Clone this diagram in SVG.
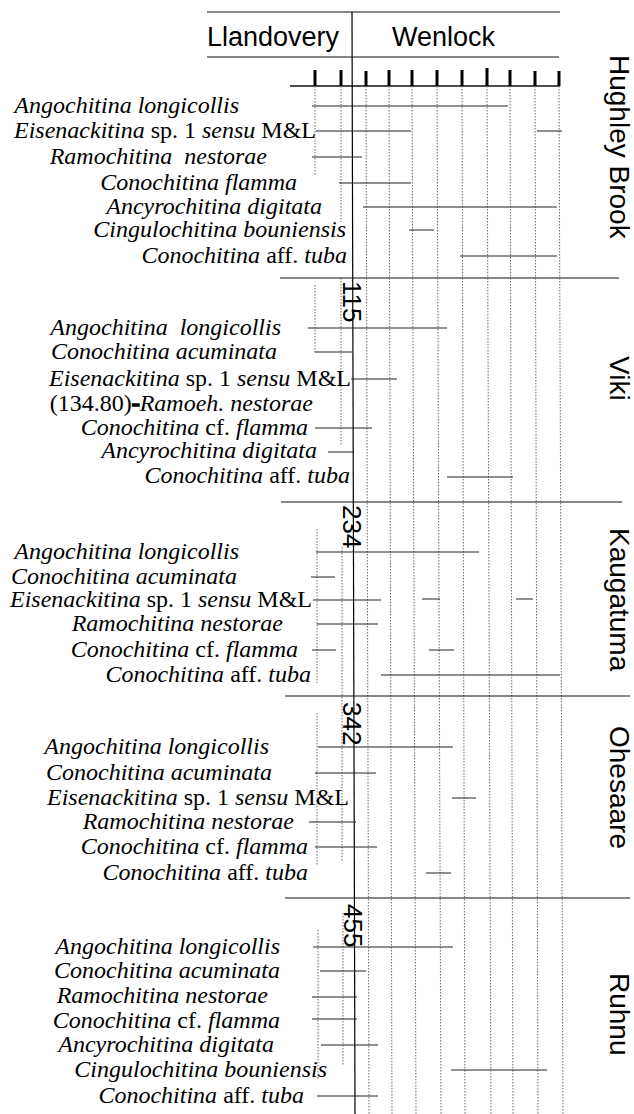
<svg xmlns="http://www.w3.org/2000/svg" width="634" height="1114" viewBox="0 0 634 1114">
<style>
.sp{font-family:"Liberation Serif","Times New Roman",serif;font-size:24px;text-anchor:end;fill:#000}
.it{font-style:italic}
.hd{font-family:"Liberation Sans",Arial,sans-serif;font-size:27px;fill:#000}
.loc{font-family:"Liberation Sans",Arial,sans-serif;font-size:28px;fill:#000}
.num{font-family:"Liberation Sans",Arial,sans-serif;font-size:26px;fill:#000}
.bar{stroke:#222;stroke-width:1;fill:none}
.dot{stroke:#6a6a6a;stroke-width:1;stroke-dasharray:1.5 1.5;fill:none}
.sep{stroke:#111;stroke-width:1.2;fill:none}
.tick{stroke:#000;stroke-width:3}
</style>
<rect width="634" height="1114" fill="#fff"/>
<g id="header">
<line class="sep" x1="207" y1="12" x2="560" y2="12"/>
<line class="sep" x1="207" y1="57" x2="559" y2="57"/>
<text class="hd" x="207" y="46">Llandovery</text>
<text class="hd" x="392" y="46">Wenlock</text>
<line class="sep" x1="290" y1="86" x2="560" y2="86" style="stroke-width:1.5"/>
<g id="ticks">
<line class="tick" x1="315" y1="70" x2="315" y2="86"/>
<line class="tick" x1="341" y1="70" x2="341" y2="86"/>
<line class="tick" x1="366" y1="71" x2="366" y2="86"/>
<line class="tick" x1="389" y1="70" x2="389" y2="86"/>
<line class="tick" x1="412" y1="70" x2="412" y2="86"/>
<line class="tick" x1="437" y1="70" x2="437" y2="86"/>
<line class="tick" x1="462" y1="70" x2="462" y2="86"/>
<line class="tick" x1="487" y1="68" x2="487" y2="86"/>
<line class="tick" x1="510" y1="70" x2="510" y2="86"/>
<line class="tick" x1="535" y1="71" x2="535" y2="86"/>
<line class="tick" x1="559" y1="71" x2="559" y2="86"/>
</g>
</g>
<g id="grid">
<line class="dot" x1="366" y1="86" x2="369" y2="1114"/>
<line class="dot" x1="389" y1="86" x2="392" y2="1114"/>
<line class="dot" x1="412" y1="86" x2="416" y2="1114"/>
<line class="dot" x1="437" y1="86" x2="441" y2="1114"/>
<line class="dot" x1="462" y1="86" x2="465" y2="1114"/>
<line class="dot" x1="487" y1="86" x2="491" y2="1114"/>
<line class="dot" x1="510" y1="86" x2="513" y2="1114"/>
<line class="dot" x1="535" y1="86" x2="538" y2="1114"/>
<line class="dot" x1="559" y1="86" x2="563" y2="1114"/>
<line class="dot" x1="315" y1="86" x2="315" y2="175"/>
<line class="dot" x1="341" y1="86" x2="341" y2="222"/>
<line class="dot" x1="315" y1="285" x2="315" y2="353"/>
<line class="dot" x1="341" y1="278" x2="341" y2="445"/>
<line class="dot" x1="317" y1="529" x2="317" y2="683"/>
<line class="dot" x1="342" y1="547" x2="342" y2="862"/>
<line class="dot" x1="317" y1="713" x2="317" y2="865"/>
<line class="dot" x1="318" y1="930" x2="318" y2="1080"/>
<line class="dot" x1="343" y1="913" x2="343" y2="1065"/>
<line x1="352" y1="12" x2="355" y2="1114" stroke="#000" stroke-width="1.2"/>
</g>
<g id="separators">
<line class="sep" x1="280" y1="278" x2="619" y2="278"/>
<line class="sep" x1="281" y1="502" x2="622" y2="502"/>
<line class="sep" x1="285" y1="696" x2="630" y2="696"/>
<line class="sep" x1="285" y1="898" x2="630" y2="898"/>
</g>
<g id="section-hughley-brook">
<text class="loc" transform="translate(610,55) rotate(90)">Hughley Brook</text>
<text class="sp it" x="239" y="113">Angochitina longicollis</text>
<text class="sp" x="316" y="138"><tspan class="it">Eisenackitina</tspan> sp. 1 <tspan class="it">sensu</tspan> M&amp;L</text>
<text class="sp it" x="267" y="164" xml:space="preserve">Ramochitina  nestorae</text>
<text class="sp it" x="297" y="190">Conochitina flamma</text>
<text class="sp it" x="322" y="214">Ancyrochitina digitata</text>
<text class="sp it" x="346" y="237">Cingulochitina bouniensis</text>
<text class="sp" x="347" y="263"><tspan class="it">Conochitina</tspan> aff. <tspan class="it">tuba</tspan></text>
<g class="bars">
<line class="bar" x1="312" y1="106" x2="508" y2="106"/>
<line class="bar" x1="316" y1="131" x2="411" y2="131"/>
<line class="bar" x1="537" y1="131" x2="562" y2="131"/>
<line class="bar" x1="312" y1="157" x2="362" y2="157"/>
<line class="bar" x1="339" y1="183" x2="411" y2="183"/>
<line class="bar" x1="363" y1="207" x2="557" y2="207"/>
<line class="bar" x1="409" y1="230" x2="434" y2="230"/>
<line class="bar" x1="460" y1="256" x2="557" y2="256"/>
</g>
</g>
<g id="section-viki">
<text class="loc" transform="translate(610,356) rotate(90)">Viki</text>
<text class="num" transform="translate(343,281) rotate(90)">115</text>
<text class="sp it" x="281" y="335" xml:space="preserve">Angochitina  longicollis</text>
<text class="sp it" x="277" y="359">Conochitina acuminata</text>
<text class="sp" x="351" y="386"><tspan class="it">Eisenackitina</tspan> sp. 1 <tspan class="it">sensu</tspan> M&amp;L</text>
<text class="sp" x="313" y="411">(134.80)<tspan font-weight="bold" stroke="#000" stroke-width="1.6">-</tspan><tspan class="it">Ramoeh. nestorae</tspan></text>
<text class="sp" x="308" y="435"><tspan class="it">Conochitina</tspan> cf. <tspan class="it">flamma</tspan></text>
<text class="sp it" x="317" y="458">Ancyrochitina digitata</text>
<text class="sp" x="350" y="483"><tspan class="it">Conochitina</tspan> aff. <tspan class="it">tuba</tspan></text>
<g class="bars">
<line class="bar" x1="308" y1="328" x2="447" y2="328"/>
<line class="bar" x1="315" y1="352" x2="352" y2="352"/>
<line class="bar" x1="351" y1="379" x2="397" y2="379"/>
<line class="bar" x1="315" y1="428" x2="372" y2="428"/>
<line class="bar" x1="328" y1="452" x2="353" y2="452"/>
<line class="bar" x1="447" y1="477" x2="513" y2="477"/>
</g>
</g>
<g id="section-kaugatuma">
<text class="loc" transform="translate(610,528) rotate(90)">Kaugatuma</text>
<text class="num" transform="translate(343,505) rotate(90)">234</text>
<text class="sp it" x="239" y="559">Angochitina longicollis</text>
<text class="sp it" x="237" y="584">Conochitina acuminata</text>
<text class="sp" x="312" y="607"><tspan class="it">Eisenackitina</tspan> sp. 1 <tspan class="it">sensu</tspan> M&amp;L</text>
<text class="sp it" x="283" y="631">Ramochitina nestorae</text>
<text class="sp" x="298" y="657"><tspan class="it">Conochitina</tspan> cf. <tspan class="it">flamma</tspan></text>
<text class="sp" x="311" y="682"><tspan class="it">Conochitina</tspan> aff. <tspan class="it">tuba</tspan></text>
<g class="bars">
<line class="bar" x1="316" y1="552" x2="479" y2="552"/>
<line class="bar" x1="311" y1="577" x2="335" y2="577"/>
<line class="bar" x1="313" y1="600" x2="381" y2="600"/>
<line class="bar" x1="422" y1="599" x2="440" y2="599"/>
<line class="bar" x1="516" y1="599" x2="533" y2="599"/>
<line class="bar" x1="317" y1="624" x2="378" y2="624"/>
<line class="bar" x1="312" y1="650" x2="336" y2="650"/>
<line class="bar" x1="429" y1="650" x2="454" y2="650"/>
<line class="bar" x1="381" y1="675" x2="560" y2="675"/>
</g>
</g>
<g id="section-ohesaare">
<text class="loc" transform="translate(610,726) rotate(90)">Ohesaare</text>
<text class="num" transform="translate(343,702) rotate(90)">342</text>
<text class="sp it" x="269" y="754">Angochitina longicollis</text>
<text class="sp it" x="272" y="780">Conochitina acuminata</text>
<text class="sp" x="349" y="805"><tspan class="it">Eisenackitina</tspan> sp. 1 <tspan class="it">sensu</tspan> M&amp;L</text>
<text class="sp it" x="294" y="829">Ramochitina nestorae</text>
<text class="sp" x="308" y="854"><tspan class="it">Conochitina</tspan> cf. <tspan class="it">flamma</tspan></text>
<text class="sp" x="308" y="880"><tspan class="it">Conochitina</tspan> aff. <tspan class="it">tuba</tspan></text>
<g class="bars">
<line class="bar" x1="318" y1="747" x2="453" y2="747"/>
<line class="bar" x1="315" y1="773" x2="376" y2="773"/>
<line class="bar" x1="452" y1="798" x2="476" y2="798"/>
<line class="bar" x1="309" y1="822" x2="356" y2="822"/>
<line class="bar" x1="315" y1="847" x2="377" y2="847"/>
<line class="bar" x1="426" y1="873" x2="451" y2="873"/>
</g>
</g>
<g id="section-ruhnu">
<text class="loc" transform="translate(610,973) rotate(90)">Ruhnu</text>
<text class="num" transform="translate(344,904) rotate(90)">455</text>
<text class="sp it" x="280" y="954">Angochitina longicollis</text>
<text class="sp it" x="280" y="978">Conochitina acuminata</text>
<text class="sp it" x="268" y="1003">Ramochitina nestorae</text>
<text class="sp" x="280" y="1028"><tspan class="it">Conochitina</tspan> cf. <tspan class="it">flamma</tspan></text>
<text class="sp it" x="274" y="1052">Ancyrochitina digitata</text>
<text class="sp it" x="327" y="1077">Cingulochitina bouniensis</text>
<text class="sp" x="304" y="1103"><tspan class="it">Conochitina</tspan> aff. <tspan class="it">tuba</tspan></text>
<g class="bars">
<line class="bar" x1="313" y1="947" x2="453" y2="947"/>
<line class="bar" x1="320" y1="971" x2="366" y2="971"/>
<line class="bar" x1="312" y1="997" x2="357" y2="997"/>
<line class="bar" x1="312" y1="1019" x2="357" y2="1019"/>
<line class="bar" x1="321" y1="1045" x2="378" y2="1045"/>
<line class="bar" x1="451" y1="1070" x2="547" y2="1070"/>
<line class="bar" x1="317" y1="1096" x2="378" y2="1096"/>
</g>
</g>
</svg>
